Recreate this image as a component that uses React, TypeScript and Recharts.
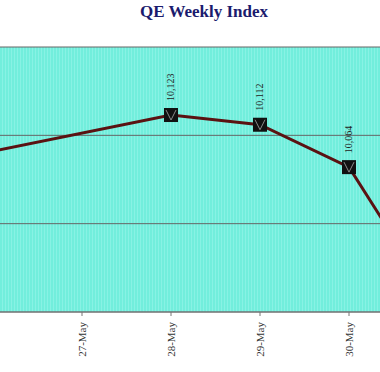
import React from "react";
import { LineChart, Line, XAxis, YAxis, CartesianGrid, LabelList } from "recharts";

const dates = ["24-May", "27-May", "28-May", "29-May", "30-May", "31-May"];
const indexValues: (number | null)[] = [10082, null, 10123, 10112, 10064, 9905];
const yTicks = [9900, 10000, 10100, 10200];

const data = dates.map((d, i) => ({ date: d, value: indexValues[i] }));

const SERIF = '"Liberation Serif", "DejaVu Serif", serif';
// the chart is wider than the window and shifted left by this much
const SHIFT = 100;

const DateTick = (props: any) => {
  const { x, y, payload } = props;
  return (
    <text
      x={x}
      y={y}
      transform={`rotate(-90, ${x}, ${y})`}
      textAnchor="end"
      dy="0.35em"
      fontFamily={SERIF}
      fontSize={11}
      fill="#333"
    >
      {payload.value}
    </text>
  );
};

const SquareDot = (props: any) => {
  const { cx, cy, value } = props;
  if (value == null || cx == null || cy == null) return null;
  const s = 14;
  return (
    <g>
      <rect x={cx - s / 2} y={cy - s / 2} width={s} height={s} fill="#111" />
      <polyline
        points={`${cx - 5},${cy - 5} ${cx},${cy + 5} ${cx + 5},${cy - 5}`}
        fill="none"
        stroke="#8a8a8a"
        strokeWidth={1}
      />
    </g>
  );
};

const ValueLabel = (props: any) => {
  const { x, y, value } = props;
  const px = x - SHIFT;
  // points outside the visible window get no label
  if (value == null || px < 5 || px > 375) return null;
  const ly = y - 14;
  return (
    <text
      x={x}
      y={ly}
      transform={`rotate(-90, ${x}, ${ly})`}
      textAnchor="start"
      dy="0.35em"
      fontFamily={SERIF}
      fontSize={10}
      fill="#222"
    >
      {Number(value).toLocaleString("en-US")}
    </text>
  );
};

export default function App() {
  return (
    <div
      style={{
        position: "absolute",
        left: 0,
        top: 0,
        width: 380,
        height: 372,
        overflow: "hidden",
        background: "#fff",
      }}
    >
      <div
        style={{
          position: "absolute",
          left: 104,
          top: 2,
          width: 200,
          textAlign: "center",
          fontFamily: SERIF,
          fontWeight: "bold",
          fontSize: 17,
          color: "#1b1b6e",
        }}
      >
        QE Weekly Index
      </div>
      <div style={{ position: "absolute", left: -SHIFT, top: 0 }}>
        <LineChart
          width={578}
          height={372}
          data={data}
          margin={{ top: 47, right: 0, bottom: 0, left: 0 }}
        >
          <defs>
            <pattern id="stripes" width="3" height="4" patternUnits="userSpaceOnUse">
              <rect width="3" height="4" fill="#72EEDC" />
              <rect width="1" height="4" fill="#88F2E4" />
            </pattern>
          </defs>
          <CartesianGrid
            vertical={false}
            fill="url(#stripes)"
            stroke="#666"
            strokeWidth={1}
          />
          <XAxis
            dataKey="date"
            height={60}
            padding={{ left: 93, right: 40 }}
            axisLine={{ stroke: "#777" }}
            tickLine={{ stroke: "#777" }}
            tickSize={4}
            tickMargin={6}
            tick={<DateTick />}
            interval={0}
          />
          <YAxis hide domain={[9900, 10200]} ticks={yTicks} />
          <Line
            type="linear"
            dataKey="value"
            stroke="#5a1212"
            strokeWidth={3}
            connectNulls
            dot={<SquareDot />}
            activeDot={false}
            isAnimationActive={false}
          >
            <LabelList dataKey="value" content={<ValueLabel />} />
          </Line>
        </LineChart>
      </div>
    </div>
  );
}
